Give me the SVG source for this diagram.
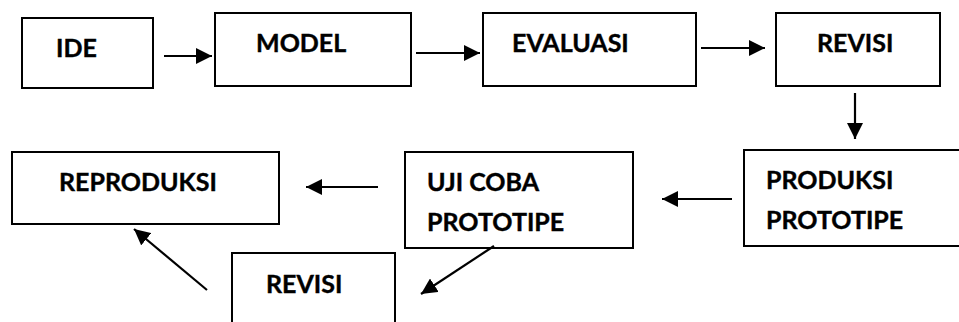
<svg xmlns="http://www.w3.org/2000/svg" width="959" height="322" viewBox="0 0 959 322">
<defs>
<style>
.box{fill:#fff;stroke:#000;stroke-width:2}
.lbl{font-family:Lato,"Open Sans","Liberation Sans",sans-serif;font-weight:bold;font-size:25px;fill:#000;stroke:#000;stroke-width:0.4}
.con{stroke:#000;stroke-width:2.2;fill:none;marker-end:url(#ah)}
</style>
<marker id="ah" markerUnits="userSpaceOnUse" markerWidth="18" markerHeight="16" refX="16" refY="8" orient="auto">
<path d="M0,0 L16,8 L0,16 Z" fill="#000"/>
</marker>
</defs>
<rect width="959" height="322" fill="#fff"/>
<g id="ide"><rect class="box" x="22" y="18" width="131" height="70"/><text class="lbl" x="56" y="57">IDE</text></g>
<g id="model"><rect class="box" x="215" y="13" width="196" height="73"/><text class="lbl" x="256" y="52">MODEL</text></g>
<g id="evaluasi"><rect class="box" x="483" y="13" width="213" height="73"/><text class="lbl" x="512" y="52">EVALUASI</text></g>
<g id="revisi1"><rect class="box" x="776" y="13" width="164" height="73"/><text class="lbl" x="817" y="52">REVISI</text></g>
<g id="produksi"><rect class="box" x="744" y="150" width="240" height="96"/><text class="lbl" x="766" y="189">PRODUKSI</text><text class="lbl" x="766" y="229">PROTOTIPE</text></g>
<g id="ujicoba"><rect class="box" x="405" y="152" width="228" height="96"/><text class="lbl" x="427" y="191">UJI COBA</text><text class="lbl" x="427" y="231">PROTOTIPE</text></g>
<g id="reproduksi"><rect class="box" x="12" y="152" width="267" height="72"/><text class="lbl" x="59" y="191">REPRODUKSI</text></g>
<g id="revisi2"><rect class="box" x="232" y="253" width="163" height="90"/><text class="lbl" x="266" y="293">REVISI</text></g>
<g id="connectors">
<line class="con" x1="164" y1="56" x2="212" y2="56"/>
<line class="con" x1="416" y1="53" x2="480" y2="53"/>
<line class="con" x1="701" y1="48" x2="765" y2="48"/>
<line class="con" x1="855" y1="93" x2="855" y2="139"/>
<line class="con" x1="732" y1="199" x2="662" y2="199"/>
<line class="con" x1="378" y1="187" x2="306" y2="187"/>
<line class="con" x1="494" y1="246" x2="421" y2="294"/>
<line class="con" x1="207" y1="290" x2="134" y2="229"/>
</g>
</svg>
